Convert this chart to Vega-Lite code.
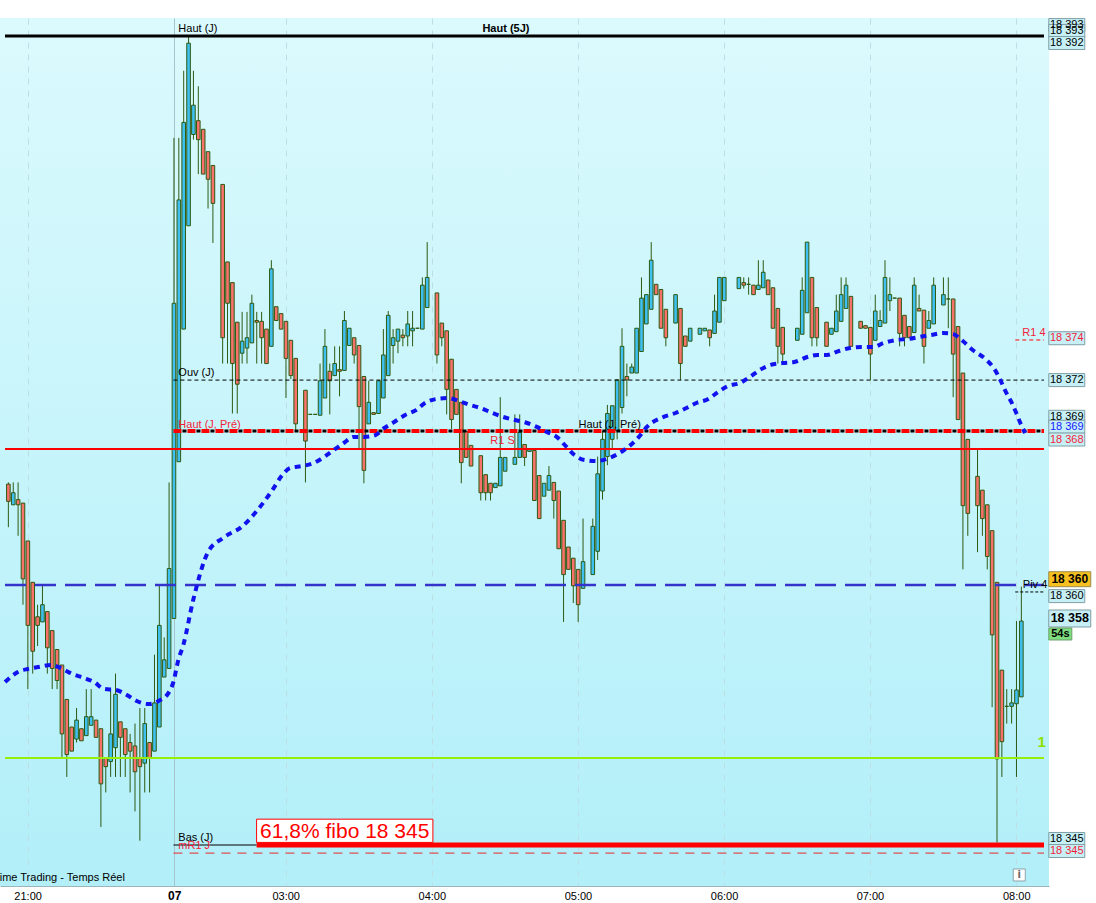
{
"$schema": "https://vega.github.io/schema/vega-lite/v6.json",
"width": 1049, "height": 868,
"autosize": {"type": "none"},
"padding": {"left": 0, "top": 18, "right": 47, "bottom": 17},
"background": "#ffffff",
"config": {"view": {"stroke": null, "fill": {"gradient": "linear", "x1": 0, "y1": 0, "x2": 0, "y2": 1, "stops": [{"offset": 0, "color": "#dbfafd"}, {"offset": 1, "color": "#b2eff9"}]}}, "font": "Liberation Sans"},
"datasets": {
"candles": [
{"n":0,"o":18365.9,"h":18366.0,"l":18363.4,"c":18364.9},
{"n":1,"o":18364.7,"h":18366.0,"l":18364.7,"c":18365.4},
{"n":2,"o":18365.0,"h":18366.0,"l":18362.9,"c":18364.7},
{"n":3,"o":18364.8,"h":18364.8,"l":18358.9,"c":18360.4},
{"n":4,"o":18362.6,"h":18362.6,"l":18354.0,"c":18357.7},
{"n":5,"o":18360.2,"h":18360.2,"l":18354.9,"c":18356.2},
{"n":6,"o":18358.2,"h":18358.9,"l":18356.5,"c":18357.7},
{"n":7,"o":18357.9,"h":18360.0,"l":18357.9,"c":18358.9},
{"n":8,"o":18358.5,"h":18358.5,"l":18354.9,"c":18356.4},
{"n":9,"o":18357.4,"h":18357.4,"l":18354.0,"c":18355.2},
{"n":10,"o":18356.3,"h":18356.3,"l":18354.0,"c":18354.5},
{"n":11,"o":18355.4,"h":18355.4,"l":18350.0,"c":18351.4},
{"n":12,"o":18353.4,"h":18353.4,"l":18348.9,"c":18350.2},
{"n":13,"o":18351.8,"h":18351.8,"l":18350.4,"c":18350.4},
{"n":14,"o":18351.1,"h":18352.9,"l":18350.9,"c":18352.2},
{"n":15,"o":18351.7,"h":18351.7,"l":18351.0,"c":18351.0},
{"n":16,"o":18351.3,"h":18354.0,"l":18351.3,"c":18352.4},
{"n":17,"o":18351.9,"h":18354.0,"l":18351.9,"c":18352.4},
{"n":18,"o":18352.2,"h":18352.2,"l":18351.2,"c":18351.2},
{"n":19,"o":18351.7,"h":18351.7,"l":18346.0,"c":18348.5},
{"n":20,"o":18350.0,"h":18350.0,"l":18348.0,"c":18349.5},
{"n":21,"o":18349.8,"h":18354.0,"l":18348.9,"c":18351.4},
{"n":22,"o":18350.6,"h":18354.9,"l":18348.9,"c":18353.7},
{"n":23,"o":18352.1,"h":18352.1,"l":18348.9,"c":18351.2},
{"n":24,"o":18351.7,"h":18351.7,"l":18348.9,"c":18350.2},
{"n":25,"o":18350.9,"h":18351.4,"l":18348.0,"c":18350.4},
{"n":26,"o":18350.7,"h":18352.0,"l":18346.9,"c":18349.2},
{"n":27,"o":18350.0,"h":18352.9,"l":18345.2,"c":18349.5},
{"n":28,"o":18349.7,"h":18352.9,"l":18348.0,"c":18352.0},
{"n":29,"o":18350.9,"h":18350.9,"l":18348.0,"c":18350.0},
{"n":30,"o":18350.4,"h":18356.0,"l":18350.4,"c":18353.2},
{"n":31,"o":18351.8,"h":18360.0,"l":18351.8,"c":18357.7},
{"n":32,"o":18354.7,"h":18357.0,"l":18354.7,"c":18355.7},
{"n":33,"o":18355.2,"h":18366.0,"l":18355.2,"c":18361.0},
{"n":34,"o":18358.1,"h":18386.0,"l":18358.1,"c":18376.4},
{"n":35,"o":18367.2,"h":18386.0,"l":18367.2,"c":18382.4},
{"n":36,"o":18374.9,"h":18389.9,"l":18374.9,"c":18386.9},
{"n":37,"o":18380.9,"h":18391.9,"l":18380.9,"c":18391.5},
{"n":38,"o":18386.2,"h":18389.9,"l":18385.9,"c":18387.9},
{"n":39,"o":18387.0,"h":18389.0,"l":18383.9,"c":18385.9},
{"n":40,"o":18386.5,"h":18386.5,"l":18383.9,"c":18383.9},
{"n":41,"o":18385.2,"h":18385.2,"l":18381.9,"c":18383.6},
{"n":42,"o":18384.4,"h":18384.4,"l":18379.9,"c":18382.2},
{"n":44,"o":18383.3,"h":18383.3,"l":18372.9,"c":18374.4},
{"n":45,"o":18378.8,"h":18378.8,"l":18372.9,"c":18376.4},
{"n":46,"o":18377.6,"h":18377.6,"l":18370.0,"c":18372.9},
{"n":47,"o":18375.3,"h":18375.3,"l":18370.0,"c":18371.7},
{"n":48,"o":18373.5,"h":18375.9,"l":18372.9,"c":18374.2},
{"n":49,"o":18373.8,"h":18375.9,"l":18372.9,"c":18374.4},
{"n":50,"o":18374.1,"h":18376.9,"l":18374.1,"c":18376.4},
{"n":51,"o":18375.4,"h":18375.9,"l":18372.9,"c":18375.3},
{"n":52,"o":18375.35,"h":18375.9,"l":18372.9,"c":18374.4},
{"n":53,"o":18374.9,"h":18374.9,"l":18372.9,"c":18372.9},
{"n":54,"o":18373.9,"h":18378.9,"l":18373.9,"c":18378.4},
{"n":55,"o":18376.2,"h":18376.2,"l":18375.4,"c":18375.4},
{"n":56,"o":18375.8,"h":18375.8,"l":18374.9,"c":18374.9},
{"n":57,"o":18375.35,"h":18375.35,"l":18370.9,"c":18373.2},
{"n":58,"o":18374.25,"h":18374.25,"l":18372.0,"c":18372.2},
{"n":59,"o":18373.2,"h":18373.2,"l":18369.0,"c":18369.4},
{"n":61,"o":18371.35,"h":18371.35,"l":18366.0,"c":18368.4},
{"n":62,"o":18369.95,"h":18369.95,"l":18369.95,"c":18369.95},
{"n":63,"o":18369.95,"h":18369.95,"l":18369.95,"c":18369.95},
{"n":64,"o":18369.9,"h":18372.9,"l":18369.9,"c":18371.9},
{"n":65,"o":18370.9,"h":18374.9,"l":18370.9,"c":18373.9},
{"n":66,"o":18372.45,"h":18372.9,"l":18369.95,"c":18371.9},
{"n":67,"o":18372.2,"h":18373.9,"l":18372.2,"c":18372.9},
{"n":68,"o":18372.55,"h":18373.9,"l":18371.0,"c":18372.45},
{"n":69,"o":18372.5,"h":18375.95,"l":18372.5,"c":18375.4},
{"n":70,"o":18373.95,"h":18374.95,"l":18373.95,"c":18374.95},
{"n":71,"o":18374.4,"h":18374.4,"l":18372.9,"c":18373.4},
{"n":72,"o":18373.95,"h":18373.95,"l":18368.0,"c":18370.4},
{"n":73,"o":18372.15,"h":18372.15,"l":18365.95,"c":18366.7},
{"n":74,"o":18369.4,"h":18371.9,"l":18369.4,"c":18370.65},
{"n":75,"o":18370.05,"h":18370.05,"l":18369.95,"c":18369.95},
{"n":76,"o":18370.0,"h":18371.9,"l":18370.0,"c":18371.9},
{"n":77,"o":18370.9,"h":18374.9,"l":18370.9,"c":18373.4},
{"n":78,"o":18372.2,"h":18375.95,"l":18372.2,"c":18375.7},
{"n":79,"o":18373.95,"h":18374.9,"l":18372.9,"c":18374.4},
{"n":80,"o":18374.2,"h":18374.9,"l":18373.5,"c":18374.9},
{"n":81,"o":18374.55,"h":18374.9,"l":18373.9,"c":18374.4},
{"n":82,"o":18374.5,"h":18375.95,"l":18373.9,"c":18375.2},
{"n":83,"o":18374.8,"h":18375.95,"l":18373.9,"c":18374.95},
{"n":84,"o":18374.95,"h":18374.95,"l":18374.95,"c":18374.95},
{"n":85,"o":18374.9,"h":18377.9,"l":18374.9,"c":18377.45},
{"n":86,"o":18376.15,"h":18379.95,"l":18376.15,"c":18377.9},
{"n":88,"o":18377.0,"h":18377.0,"l":18372.9,"c":18373.4},
{"n":89,"o":18375.25,"h":18375.25,"l":18373.9,"c":18374.4},
{"n":90,"o":18374.8,"h":18374.8,"l":18369.95,"c":18371.4},
{"n":91,"o":18373.15,"h":18373.15,"l":18369.1,"c":18369.65},
{"n":92,"o":18371.4,"h":18371.4,"l":18369.95,"c":18369.95},
{"n":93,"o":18370.65,"h":18370.65,"l":18365.95,"c":18367.15},
{"n":94,"o":18368.95,"h":18368.95,"l":18367.45,"c":18367.45},
{"n":95,"o":18368.15,"h":18368.15,"l":18366.95,"c":18366.95},
{"n":97,"o":18367.55,"h":18367.55,"l":18364.95,"c":18365.4},
{"n":98,"o":18366.45,"h":18366.45,"l":18364.95,"c":18365.4},
{"n":99,"o":18365.95,"h":18365.95,"l":18364.95,"c":18365.4},
{"n":100,"o":18365.7,"h":18365.95,"l":18365.7,"c":18365.95},
{"n":101,"o":18365.8,"h":18370.95,"l":18365.8,"c":18367.45},
{"n":102,"o":18366.65,"h":18367.45,"l":18366.65,"c":18367.45},
{"n":104,"o":18367.05,"h":18369.95,"l":18367.05,"c":18367.45},
{"n":105,"o":18367.45,"h":18369.95,"l":18367.45,"c":18368.9},
{"n":106,"o":18368.2,"h":18368.2,"l":18366.95,"c":18367.45},
{"n":107,"o":18367.8,"h":18367.9,"l":18367.8,"c":18367.9},
{"n":108,"o":18367.85,"h":18367.85,"l":18364.95,"c":18364.95},
{"n":109,"o":18366.4,"h":18366.4,"l":18363.9,"c":18363.9},
{"n":110,"o":18365.2,"h":18365.95,"l":18365.2,"c":18365.95},
{"n":111,"o":18365.55,"h":18366.95,"l":18365.55,"c":18366.4},
{"n":112,"o":18366.0,"h":18366.0,"l":18363.9,"c":18364.95},
{"n":113,"o":18365.5,"h":18365.5,"l":18362.15,"c":18362.15},
{"n":114,"o":18363.8,"h":18363.8,"l":18357.9,"c":18360.65},
{"n":115,"o":18362.25,"h":18362.25,"l":18360.95,"c":18360.95},
{"n":116,"o":18361.6,"h":18361.6,"l":18359.0,"c":18360.0},
{"n":117,"o":18360.95,"h":18360.95,"l":18357.9,"c":18358.9},
{"n":118,"o":18359.85,"h":18363.9,"l":18359.85,"c":18361.4},
{"n":120,"o":18360.65,"h":18363.9,"l":18360.65,"c":18363.45},
{"n":121,"o":18362.0,"h":18367.5,"l":18361.5,"c":18366.5},
{"n":122,"o":18365.5,"h":18369.0,"l":18365.0,"c":18368.5},
{"n":123,"o":18367.5,"h":18370.5,"l":18367.0,"c":18370.0},
{"n":124,"o":18368.5,"h":18370.45,"l":18368.0,"c":18370.45},
{"n":125,"o":18369.0,"h":18372.0,"l":18368.5,"c":18371.95},
{"n":126,"o":18370.35,"h":18374.95,"l":18370.0,"c":18373.9},
{"n":127,"o":18372.15,"h":18372.9,"l":18371.0,"c":18371.95},
{"n":128,"o":18372.35,"h":18372.9,"l":18372.35,"c":18372.7},
{"n":129,"o":18372.35,"h":18374.95,"l":18372.35,"c":18374.95},
{"n":130,"o":18373.6,"h":18377.9,"l":18373.6,"c":18376.7},
{"n":131,"o":18375.2,"h":18376.9,"l":18375.2,"c":18376.9},
{"n":132,"o":18376.05,"h":18379.95,"l":18376.05,"c":18378.9},
{"n":133,"o":18377.5,"h":18377.5,"l":18376.9,"c":18376.9},
{"n":134,"o":18377.2,"h":18377.2,"l":18374.95,"c":18374.95},
{"n":135,"o":18376.05,"h":18376.05,"l":18373.9,"c":18374.4},
{"n":137,"o":18375.25,"h":18376.9,"l":18375.25,"c":18376.9},
{"n":138,"o":18376.1,"h":18376.1,"l":18371.95,"c":18372.9},
{"n":139,"o":18374.5,"h":18374.5,"l":18373.9,"c":18373.9},
{"n":140,"o":18374.2,"h":18374.95,"l":18374.2,"c":18374.95},
{"n":142,"o":18374.6,"h":18374.95,"l":18374.6,"c":18374.95},
{"n":143,"o":18374.8,"h":18374.95,"l":18374.8,"c":18374.95},
{"n":144,"o":18374.85,"h":18374.85,"l":18373.9,"c":18374.4},
{"n":145,"o":18374.65,"h":18376.9,"l":18374.65,"c":18375.95},
{"n":146,"o":18375.3,"h":18377.9,"l":18375.3,"c":18377.9},
{"n":147,"o":18376.55,"h":18377.9,"l":18376.55,"c":18377.9},
{"n":150,"o":18377.25,"h":18377.9,"l":18377.25,"c":18377.9},
{"n":151,"o":18377.6,"h":18377.9,"l":18377.25,"c":18377.45},
{"n":152,"o":18377.5,"h":18377.9,"l":18376.9,"c":18377.5},
{"n":153,"o":18377.45,"h":18377.45,"l":18376.9,"c":18376.9},
{"n":154,"o":18377.2,"h":18378.9,"l":18377.2,"c":18377.45},
{"n":155,"o":18377.3,"h":18378.9,"l":18377.3,"c":18378.2},
{"n":156,"o":18377.75,"h":18377.75,"l":18376.9,"c":18376.9},
{"n":157,"o":18377.3,"h":18377.3,"l":18374.95,"c":18374.95},
{"n":158,"o":18376.1,"h":18376.1,"l":18372.9,"c":18373.9},
{"n":159,"o":18375.0,"h":18375.0,"l":18372.95,"c":18373.45},
{"n":162,"o":18374.25,"h":18374.95,"l":18374.25,"c":18374.95},
{"n":163,"o":18374.6,"h":18377.9,"l":18374.6,"c":18377.15},
{"n":164,"o":18375.85,"h":18379.95,"l":18375.85,"c":18379.95},
{"n":165,"o":18377.9,"h":18377.9,"l":18373.9,"c":18374.4},
{"n":166,"o":18376.15,"h":18376.15,"l":18373.9,"c":18374.4},
{"n":168,"o":18375.3,"h":18375.3,"l":18373.9,"c":18373.9},
{"n":169,"o":18374.6,"h":18374.95,"l":18374.6,"c":18374.95},
{"n":170,"o":18374.75,"h":18376.9,"l":18374.75,"c":18375.95},
{"n":171,"o":18375.35,"h":18377.9,"l":18375.35,"c":18376.9},
{"n":172,"o":18376.1,"h":18377.9,"l":18376.1,"c":18377.45},
{"n":173,"o":18376.8,"h":18376.8,"l":18373.9,"c":18373.9},
{"n":175,"o":18375.35,"h":18375.35,"l":18374.95,"c":18374.95},
{"n":176,"o":18375.1,"h":18375.1,"l":18374.95,"c":18374.95},
{"n":177,"o":18375.0,"h":18375.0,"l":18371.95,"c":18373.45},
{"n":178,"o":18374.25,"h":18376.9,"l":18374.25,"c":18375.95},
{"n":179,"o":18375.05,"h":18376.0,"l":18375.05,"c":18375.4},
{"n":180,"o":18375.25,"h":18378.9,"l":18375.25,"c":18377.9},
{"n":181,"o":18376.55,"h":18377.9,"l":18375.95,"c":18376.9},
{"n":182,"o":18376.7,"h":18376.7,"l":18376.7,"c":18376.7},
{"n":183,"o":18376.7,"h":18376.7,"l":18373.9,"c":18374.65},
{"n":184,"o":18375.7,"h":18375.7,"l":18373.9,"c":18374.4},
{"n":185,"o":18375.05,"h":18375.05,"l":18374.4,"c":18374.4},
{"n":186,"o":18374.7,"h":18377.9,"l":18374.7,"c":18377.45},
{"n":187,"o":18376.1,"h":18376.9,"l":18375.95,"c":18375.95},
{"n":188,"o":18376.0,"h":18376.0,"l":18372.9,"c":18373.9},
{"n":189,"o":18374.95,"h":18375.95,"l":18374.95,"c":18375.4},
{"n":190,"o":18375.2,"h":18377.9,"l":18375.2,"c":18377.45},
{"n":192,"o":18376.3,"h":18377.9,"l":18376.3,"c":18376.9},
{"n":193,"o":18376.65,"h":18377.9,"l":18374.95,"c":18376.65},
{"n":194,"o":18376.65,"h":18376.65,"l":18370.95,"c":18373.45},
{"n":195,"o":18375.05,"h":18375.05,"l":18369.65,"c":18369.65},
{"n":196,"o":18372.35,"h":18372.35,"l":18360.95,"c":18364.65},
{"n":197,"o":18368.5,"h":18368.5,"l":18362.9,"c":18364.2},
{"n":199,"o":18366.35,"h":18367.9,"l":18361.95,"c":18364.65},
{"n":200,"o":18365.55,"h":18365.55,"l":18362.9,"c":18363.9},
{"n":201,"o":18364.7,"h":18364.7,"l":18360.95,"c":18361.7},
{"n":202,"o":18363.2,"h":18363.2,"l":18352.95,"c":18357.15},
{"n":203,"o":18360.2,"h":18360.2,"l":18345.1,"c":18349.95},
{"n":204,"o":18355.1,"h":18355.1,"l":18348.9,"c":18350.95},
{"n":205,"o":18353.0,"h":18354.0,"l":18352.0,"c":18353.0},
{"n":206,"o":18353.0,"h":18354.0,"l":18352.0,"c":18353.2},
{"n":207,"o":18353.15,"h":18357.95,"l":18348.9,"c":18353.95},
{"n":208,"o":18353.55,"h":18359.95,"l":18353.55,"c":18357.95}
],
"ma": [
{"n":-0.69,"p":18354.41},{"n":1.95,"p":18354.99},{"n":3.99,"p":18355.17},{"n":6.02,"p":18355.28},{"n":8.87,"p":18355.4},{"n":11.1,"p":18355.17},{"n":13.14,"p":18354.88},{"n":15.58,"p":18354.64},{"n":17.61,"p":18354.41},{"n":19.65,"p":18354.01},{"n":22.09,"p":18353.95},{"n":24.32,"p":18353.66},{"n":26.36,"p":18353.31},{"n":28.8,"p":18353.13},{"n":30.83,"p":18353.31},{"n":32.86,"p":18353.77},{"n":33.88,"p":18354.41},{"n":34.9,"p":18355.69},{"n":35.92,"p":18356.56},{"n":37.95,"p":18359.17},{"n":41.0,"p":18361.96},{"n":44.05,"p":18362.77},{"n":48.12,"p":18363.47},{"n":51.17,"p":18364.4},{"n":54.22,"p":18365.56},{"n":56.25,"p":18366.43},{"n":57.88,"p":18366.84},{"n":60.32,"p":18366.95},{"n":62.76,"p":18367.13},{"n":64.79,"p":18367.47},{"n":66.83,"p":18367.88},{"n":68.86,"p":18368.29},{"n":70.9,"p":18368.64},{"n":73.13,"p":18368.64},{"n":75.37,"p":18368.75},{"n":77.2,"p":18369.16},{"n":79.24,"p":18369.51},{"n":81.47,"p":18369.91},{"n":83.71,"p":18370.2},{"n":85.54,"p":18370.61},{"n":87.78,"p":18370.84},{"n":90.22,"p":18370.9},{"n":92.46,"p":18370.73},{"n":94.89,"p":18370.49},{"n":96.93,"p":18370.32},{"n":99.37,"p":18370.03},{"n":101.61,"p":18369.8},{"n":104.05,"p":18369.62},{"n":106.49,"p":18369.45},{"n":108.52,"p":18369.22},{"n":110.56,"p":18368.93},{"n":112.59,"p":18368.64},{"n":114.62,"p":18368.06},{"n":116.25,"p":18367.59},{"n":118.28,"p":18367.3},{"n":120.72,"p":18367.24},{"n":123.37,"p":18367.42},{"n":126.42,"p":18367.88},{"n":129.47,"p":18368.64},{"n":131.1,"p":18369.22},{"n":134.55,"p":18369.8},{"n":136.99,"p":18370.03},{"n":139.23,"p":18370.32},{"n":141.26,"p":18370.61},{"n":143.7,"p":18370.84},{"n":145.74,"p":18371.25},{"n":147.77,"p":18371.6},{"n":150.21,"p":18371.77},{"n":152.24,"p":18372.12},{"n":154.28,"p":18372.53},{"n":156.52,"p":18372.82},{"n":158.96,"p":18372.93},{"n":161.4,"p":18372.99},{"n":164.04,"p":18373.28},{"n":166.08,"p":18373.4},{"n":168.11,"p":18373.4},{"n":170.55,"p":18373.63},{"n":172.79,"p":18373.8},{"n":175.23,"p":18373.86},{"n":177.67,"p":18373.86},{"n":179.7,"p":18374.09},{"n":182.35,"p":18374.27},{"n":184.79,"p":18374.33},{"n":187.03,"p":18374.44},{"n":189.46,"p":18374.56},{"n":191.9,"p":18374.67},{"n":193.94,"p":18374.62},{"n":195.97,"p":18374.21},{"n":198.01,"p":18373.69},{"n":200.65,"p":18373.16},{"n":202.48,"p":18372.58},{"n":203.7,"p":18371.94},{"n":204.72,"p":18371.31},{"n":205.94,"p":18370.67},{"n":206.96,"p":18370.03},{"n":207.97,"p":18369.33},{"n":208.79,"p":18368.87}
]
},
"encoding": {
"x": {"field": "n", "type": "quantitative", "scale": {"domain": [-0.6915, 212.65], "nice": false, "zero": false},
 "axis": {"orient": "bottom", "title": null, "values": [3.95, 34.05, 56.95, 86.95, 116.95, 146.95, 176.9, 206.95],
  "labelExpr": "datum.value < 10 ? '21:00' : datum.value < 40 ? '07' : datum.value < 60 ? '03:00' : datum.value < 90 ? '04:00' : datum.value < 120 ? '05:00' : datum.value < 150 ? '06:00' : datum.value < 180 ? '07:00' : '08:00'",
  "labelFont": "Liberation Sans", "labelColor": "#000000",
  "labelFontSize": {"condition": {"test": "datum.value > 30 && datum.value < 40", "value": 12}, "value": 11},
  "labelFontWeight": {"condition": {"test": "datum.value > 30 && datum.value < 40", "value": "bold"}, "value": "normal"},
  "ticks": false, "labelPadding": 4, "domainColor": "#9db4ba", "labelFlush": false, "labelOverlap": false,
  "grid": true,
  "gridColor": {"condition": {"test": "datum.value > 30 && datum.value < 40", "value": "#a6c4cb"}, "value": "#bcdfe6"},
  "gridDash": {"condition": {"test": "datum.value > 30 && datum.value < 40", "value": []}, "value": [6, 6]}}}
},
"layer": [
{"data": {"name": "candles"}, "mark": {"type": "rule", "color": "#2e5a12", "strokeWidth": 1},
 "encoding": {
  "y": {"field": "l", "type": "quantitative", "scale": {"domain": [18342.57, 18392.961], "nice": false, "zero": false},
   "axis": {"orient": "right", "title": null, "values": [18345, 18350, 18355, 18360, 18365, 18370, 18375, 18380, 18385, 18390],
    "labelExpr": "replace(format(datum.value, ','), ',', ' ')", "labelFont": "Liberation Sans", "labelColor": "#000000",
    "labelFontSize": {"condition": {"test": "datum.value == 18350", "value": 12}, "value": 11},
    "labelFontWeight": {"condition": {"test": "datum.value == 18350", "value": "bold"}, "value": "normal"},
    "tickSize": 5, "tickColor": "#7f969c", "domainColor": "#9db4ba", "labelPadding": 3, "labelFlush": false, "labelOverlap": false,
    "grid": true, "gridColor": "#bcdfe6", "gridDash": [6, 6]}},
  "y2": {"field": "h"}}},
{"data": {"name": "candles"}, "mark": {"type": "bar", "orient": "vertical", "width": 3.6, "stroke": "#2e5a12", "strokeWidth": 1},
 "encoding": {
  "y": {"field": "o", "type": "quantitative", "scale": {"domain": [18342.57, 18392.961], "nice": false, "zero": false}, "axis": null},
  "y2": {"field": "c"},
  "fill": {"condition": {"test": "datum.c >= datum.o", "value": "#3ec1f1"}, "value": "#f7726a"}}},
{"data": {"values": [{"n": -0.6915, "n2": 212.65, "p": 18391.92}]}, "mark": {"type": "rule", "color": "#000000", "strokeWidth": 3},
 "encoding": {"x2": {"field": "n2"}, "y": {"field": "p", "type": "quantitative", "scale": {"domain": [18342.57, 18392.961], "nice": false, "zero": false}, "axis": null}}},
{"data": {"values": [{"n": 33.9, "n2": 212.65, "p": 18371.94}]}, "mark": {"type": "rule", "color": "#000000", "strokeWidth": 1, "strokeDash": [4, 3]},
 "encoding": {"x2": {"field": "n2"}, "y": {"field": "p", "type": "quantitative", "scale": {"domain": [18342.57, 18392.961], "nice": false, "zero": false}, "axis": null}}},
{"data": {"values": [{"n": 33.9, "n2": 212.65, "p": 18368.98}]}, "mark": {"type": "rule", "color": "#000000", "strokeWidth": 3, "strokeDash": [4, 10], "strokeDashOffset": 5},
 "encoding": {"x2": {"field": "n2"}, "y": {"field": "p", "type": "quantitative", "scale": {"domain": [18342.57, 18392.961], "nice": false, "zero": false}, "axis": null}}},
{"data": {"values": [{"n": 33.9, "n2": 212.65, "p": 18368.98}]}, "mark": {"type": "rule", "color": "#ff0000", "strokeWidth": 4, "strokeDash": [8, 6]},
 "encoding": {"x2": {"field": "n2"}, "y": {"field": "p", "type": "quantitative", "scale": {"domain": [18342.57, 18392.961], "nice": false, "zero": false}, "axis": null}}},
{"data": {"values": [{"n": -0.6915, "n2": 212.65, "p": 18367.94}]}, "mark": {"type": "rule", "color": "#ff0000", "strokeWidth": 2},
 "encoding": {"x2": {"field": "n2"}, "y": {"field": "p", "type": "quantitative", "scale": {"domain": [18342.57, 18392.961], "nice": false, "zero": false}, "axis": null}}},
{"data": {"values": [{"n": 206.75, "n2": 212.65, "p": 18374.27}]}, "mark": {"type": "rule", "color": "#ff0000", "strokeWidth": 1, "strokeDash": [4, 3]},
 "encoding": {"x2": {"field": "n2"}, "y": {"field": "p", "type": "quantitative", "scale": {"domain": [18342.57, 18392.961], "nice": false, "zero": false}, "axis": null}}},
{"data": {"values": [{"n": -0.6915, "n2": 212.65, "p": 18360.04}]}, "mark": {"type": "rule", "color": "#3434cc", "strokeWidth": 2.5, "strokeDash": [21, 9]},
 "encoding": {"x2": {"field": "n2"}, "y": {"field": "p", "type": "quantitative", "scale": {"domain": [18342.57, 18392.961], "nice": false, "zero": false}, "axis": null}}},
{"data": {"values": [{"n": 206.75, "n2": 212.65, "p": 18359.64}]}, "mark": {"type": "rule", "color": "#000000", "strokeWidth": 1, "strokeDash": [3, 2]},
 "encoding": {"x2": {"field": "n2"}, "y": {"field": "p", "type": "quantitative", "scale": {"domain": [18342.57, 18392.961], "nice": false, "zero": false}, "axis": null}}},
{"data": {"values": [{"n": -0.6915, "n2": 212.65, "p": 18350.0}]}, "mark": {"type": "rule", "color": "#96ee0a", "strokeWidth": 2},
 "encoding": {"x2": {"field": "n2"}, "y": {"field": "p", "type": "quantitative", "scale": {"domain": [18342.57, 18392.961], "nice": false, "zero": false}, "axis": null}}},
{"data": {"values": [{"n": 33.9, "n2": 50.97, "p": 18344.95}]}, "mark": {"type": "rule", "color": "#000000", "strokeWidth": 1},
 "encoding": {"x2": {"field": "n2"}, "y": {"field": "p", "type": "quantitative", "scale": {"domain": [18342.57, 18392.961], "nice": false, "zero": false}, "axis": null}}},
{"data": {"values": [{"n": 50.97, "n2": 212.65, "p": 18344.95}]}, "mark": {"type": "rule", "color": "#ff0000", "strokeWidth": 5},
 "encoding": {"x2": {"field": "n2"}, "y": {"field": "p", "type": "quantitative", "scale": {"domain": [18342.57, 18392.961], "nice": false, "zero": false}, "axis": null}}},
{"data": {"values": [{"n": 33.9, "n2": 212.65, "p": 18344.48}]}, "mark": {"type": "rule", "color": "#e82828", "strokeWidth": 1, "strokeDash": [9, 7]},
 "encoding": {"x2": {"field": "n2"}, "y": {"field": "p", "type": "quantitative", "scale": {"domain": [18342.57, 18392.961], "nice": false, "zero": false}, "axis": null}}},
{"data": {"name": "ma"}, "mark": {"type": "line", "color": "#1212ee", "strokeWidth": 4, "strokeDash": [6, 5], "interpolate": "monotone"},
 "encoding": {"y": {"field": "p", "type": "quantitative", "scale": {"domain": [18342.57, 18392.961], "nice": false, "zero": false}, "axis": null}}},
{"data": {"values": [
  {"n": 34.9, "p": 18392.32, "t": "Haut (J)", "kind": "black"},
  {"n": 34.9, "p": 18372.35, "t": "Ouv (J)", "kind": "black"},
  {"n": 117.06, "p": 18369.33, "t": "Haut (J, Pré)", "kind": "black"},
  {"n": 208.3, "p": 18360.04, "t": "Piv 4", "kind": "black"},
  {"n": 34.9, "p": 18345.36, "t": "Bas (J)", "kind": "black"},
  {"n": 34.9, "p": 18369.33, "t": "Haut (J, Pré)", "kind": "red"},
  {"n": 98.96, "p": 18368.4, "t": "R1 S", "kind": "red"},
  {"n": 208.2, "p": 18374.67, "t": "R1 4", "kind": "red"},
  {"n": 34.9, "p": 18344.89, "t": "mR1 J", "kind": "red"}]},
 "mark": {"type": "text", "align": "left", "baseline": "middle", "font": "Liberation Sans", "fontSize": 11},
 "encoding": {"y": {"field": "p", "type": "quantitative", "scale": {"domain": [18342.57, 18392.961], "nice": false, "zero": false}, "axis": null},
  "text": {"field": "t"},
  "color": {"field": "kind", "type": "nominal", "scale": {"domain": ["black", "red", "blue", "green"], "range": ["#000000", "#f41c3a", "#1a1aff", "#8ee000"]}, "legend": null}}},
{"data": {"values": [
  {"n": 97.34, "p": 18392.32, "t": "Haut (5J)", "kind": "black"}]},
 "mark": {"type": "text", "align": "left", "baseline": "middle", "font": "Liberation Sans", "fontSize": 11, "fontWeight": "bold"},
 "encoding": {"y": {"field": "p", "type": "quantitative", "scale": {"domain": [18342.57, 18392.961], "nice": false, "zero": false}, "axis": null},
  "text": {"field": "t"},
  "color": {"field": "kind", "type": "nominal", "scale": {"domain": ["black", "red", "blue", "green"], "range": ["#000000", "#f41c3a", "#1a1aff", "#8ee000"]}, "legend": null}}},
{"data": {"values": [
  {"n": 211.3, "p": 18350.93, "t": "1", "kind": "green"}]},
 "mark": {"type": "text", "align": "left", "baseline": "middle", "font": "Liberation Sans", "fontSize": 15, "fontWeight": "bold"},
 "encoding": {"y": {"field": "p", "type": "quantitative", "scale": {"domain": [18342.57, 18392.961], "nice": false, "zero": false}, "axis": null},
  "text": {"field": "t"},
  "color": {"field": "kind", "type": "nominal", "scale": {"domain": ["black", "red", "blue", "green"], "range": ["#000000", "#f41c3a", "#1a1aff", "#8ee000"]}, "legend": null}}},
{"data": {"values": [{"n": 50.97, "n2": 87.17, "p": 18346.45, "p2": 18345.1}]},
 "mark": {"type": "rect", "fill": "#ffffff", "stroke": "#ff0000", "strokeWidth": 1},
 "encoding": {"x2": {"field": "n2"}, "y": {"field": "p", "type": "quantitative", "scale": {"domain": [18342.57, 18392.961], "nice": false, "zero": false}, "axis": null}, "y2": {"field": "p2"}}},
{"data": {"values": [{"n": 69.07, "p": 18345.72, "t": "61,8% fibo 18 345"}]},
 "mark": {"type": "text", "align": "center", "baseline": "middle", "font": "Liberation Sans", "fontSize": 21, "color": "#ff0000"},
 "encoding": {"y": {"field": "p", "type": "quantitative", "scale": {"domain": [18342.57, 18392.961], "nice": false, "zero": false}, "axis": null}, "text": {"field": "t"}}},
{"data": {"values": [{"n": 23.92, "p": 18343.03, "t": "ProRealTime Trading - Temps Réel"}]},
 "mark": {"type": "text", "align": "right", "baseline": "middle", "font": "Liberation Sans", "fontSize": 11, "color": "#000000"},
 "encoding": {"y": {"field": "p", "type": "quantitative", "scale": {"domain": [18342.57, 18392.961], "nice": false, "zero": false}, "axis": null}, "text": {"field": "t"}}},
{"data": {"values": [{"n": 207.57, "p": 18343.21}]},
 "mark": {"type": "point", "shape": "square", "size": 144, "filled": true, "fill": "#ffffff", "stroke": "#8fa5aa", "strokeWidth": 1, "opacity": 1},
 "encoding": {"y": {"field": "p", "type": "quantitative", "scale": {"domain": [18342.57, 18392.961], "nice": false, "zero": false}, "axis": null}}},
{"data": {"values": [{"n": 207.57, "p": 18343.21, "t": "i"}]},
 "mark": {"type": "text", "align": "center", "baseline": "middle", "font": "DejaVu Sans", "fontSize": 10, "fontWeight": "bold", "color": "#666666"},
 "encoding": {"y": {"field": "p", "type": "quantitative", "scale": {"domain": [18342.57, 18392.961], "nice": false, "zero": false}, "axis": null}, "text": {"field": "t"}}},
{"data": {"values": [
  {"n": 217.33, "p": 18392.55, "t": "18 393", "kind": "black"},
  {"n": 217.33, "p": 18392.21, "t": "18 393", "kind": "black"},
  {"n": 217.33, "p": 18391.51, "t": "18 392", "kind": "black"},
  {"n": 217.33, "p": 18374.37, "t": "18 374", "kind": "red"},
  {"n": 217.33, "p": 18371.94, "t": "18 372", "kind": "black"},
  {"n": 217.33, "p": 18369.81, "t": "18 369", "kind": "black"},
  {"n": 217.33, "p": 18369.23, "t": "18 369", "kind": "blue"},
  {"n": 217.33, "p": 18368.49, "t": "18 368", "kind": "red"},
  {"n": 217.33, "p": 18359.4, "t": "18 360", "kind": "black"},
  {"n": 217.33, "p": 18345.3, "t": "18 345", "kind": "black"},
  {"n": 217.33, "p": 18344.6, "t": "18 345", "kind": "red"}]},
 "layer": [
  {"mark": {"type": "point", "shape": "M-1,-0.3611L1,-0.3611L1,0.3611L-1,0.3611Z", "size": 1296, "filled": true, "fill": "#c6f0f6", "stroke": "#7f9ea5", "strokeWidth": 1, "opacity": 1},
   "encoding": {"y": {"field": "p", "type": "quantitative", "scale": {"domain": [18342.57, 18392.961], "nice": false, "zero": false}, "axis": null}}},
  {"mark": {"type": "text", "align": "center", "baseline": "middle", "font": "Liberation Sans", "fontSize": 11},
   "encoding": {"y": {"field": "p", "type": "quantitative", "scale": {"domain": [18342.57, 18392.961], "nice": false, "zero": false}, "axis": null},
    "text": {"field": "t"},
    "color": {"field": "kind", "type": "nominal", "scale": {"domain": ["black", "red", "blue", "green"], "range": ["#000000", "#f41c3a", "#1a1aff", "#8ee000"]}, "legend": null}}}
 ]},
{"data": {"values": [{"n": 217.94, "p": 18360.38, "t": "18 360"}]},
 "layer": [
  {"mark": {"type": "point", "shape": "M-1,-0.357L1,-0.357L1,0.357L-1,0.357Z", "size": 1764, "filled": true, "fill": "#f6c11e", "stroke": "#9a8a50", "strokeWidth": 1, "opacity": 1},
   "encoding": {"y": {"field": "p", "type": "quantitative", "scale": {"domain": [18342.57, 18392.961], "nice": false, "zero": false}, "axis": null}}},
  {"mark": {"type": "text", "align": "center", "baseline": "middle", "font": "Liberation Sans", "fontSize": 12, "fontWeight": "bold", "color": "#000000"},
   "encoding": {"y": {"field": "p", "type": "quantitative", "scale": {"domain": [18342.57, 18392.961], "nice": false, "zero": false}, "axis": null}, "text": {"field": "t"}}}
 ]},
{"data": {"values": [{"n": 217.94, "p": 18358.1, "t": "18 358"}]},
 "layer": [
  {"mark": {"type": "point", "shape": "M-1,-0.405L1,-0.405L1,0.405L-1,0.405Z", "size": 1764, "filled": true, "fill": "#c6f0f6", "stroke": "#7f9ea5", "strokeWidth": 1, "opacity": 1},
   "encoding": {"y": {"field": "p", "type": "quantitative", "scale": {"domain": [18342.57, 18392.961], "nice": false, "zero": false}, "axis": null}}},
  {"mark": {"type": "text", "align": "center", "baseline": "middle", "font": "Liberation Sans", "fontSize": 12.5, "fontWeight": "bold", "color": "#000000"},
   "encoding": {"y": {"field": "p", "type": "quantitative", "scale": {"domain": [18342.57, 18392.961], "nice": false, "zero": false}, "axis": null}, "text": {"field": "t"}}}
 ]},
{"data": {"values": [{"n": 216.0, "p": 18357.2, "t": "54s"}]},
 "layer": [
  {"mark": {"type": "point", "shape": "M-1,-0.522L1,-0.522L1,0.522L-1,0.522Z", "size": 529, "filled": true, "fill": "#7fdd7f", "stroke": "#6aa06a", "strokeWidth": 1, "opacity": 1},
   "encoding": {"y": {"field": "p", "type": "quantitative", "scale": {"domain": [18342.57, 18392.961], "nice": false, "zero": false}, "axis": null}}},
  {"mark": {"type": "text", "align": "center", "baseline": "middle", "font": "Liberation Sans", "fontSize": 11, "fontWeight": "bold", "color": "#000000"},
   "encoding": {"y": {"field": "p", "type": "quantitative", "scale": {"domain": [18342.57, 18392.961], "nice": false, "zero": false}, "axis": null}, "text": {"field": "t"}}}
 ]}
]
}
